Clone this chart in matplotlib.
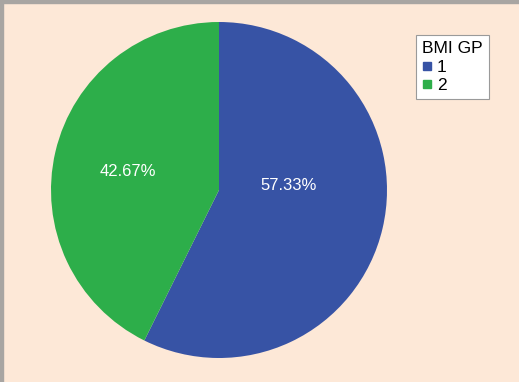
import matplotlib.pyplot as plt
from matplotlib.patches import Rectangle
from matplotlib.lines import Line2D

groups = ['1', '2']
shares = [57.33, 42.67]
colors = ['#3753A5', '#2DAE4A']
label_pos = [(289, 186), (128, 172)]  # pixel positions of the labels

W, H = 519, 382
fig = plt.figure(figsize=(W / 100, H / 100), dpi=100)
fig.patch.set_facecolor('#FDE8D7')

# gray frame on the top and left edges
fig.patches.append(Rectangle((0, 0), 3 / W, 1, transform=fig.transFigure,
                             color='#A8A5A2', zorder=0))
fig.patches.append(Rectangle((0, 1 - 3 / H), 1, 3 / H, transform=fig.transFigure,
                             color='#A8A5A2', zorder=0))

cx, cy, r = 219, 190, 168
ax = fig.add_axes([(cx - r) / W, 1 - (cy + r) / H, 2 * r / W, 2 * r / H])
ax.pie(shares, colors=colors, startangle=90, counterclock=False,
       wedgeprops=dict(linewidth=0))
ax.set_xlim(-1, 1)
ax.set_ylim(-1, 1)
ax.set_aspect('auto')
ax.axis('off')

for s, (px, py) in zip(shares, label_pos):
    fig.text(px / W, 1 - py / H, f'{s:.2f}%', color='white', fontsize=12,
             ha='center', va='center', family='Liberation Sans')

handles = [Line2D([], [], marker='s', linestyle='', markersize=6,
                  markerfacecolor=c, markeredgecolor=c) for c in colors]
leg = fig.legend(handles, groups, title='BMI GP', loc='upper left',
                 bbox_to_anchor=(416 / W, 1 - 35 / H), frameon=True,
                 fancybox=False, edgecolor='#9A9A9A', facecolor='white',
                 framealpha=1, prop={'family': 'Liberation Sans', 'size': 12.5},
                 title_fontproperties={'family': 'Liberation Sans', 'size': 12.5},
                 handletextpad=0.25, handlelength=0.6, borderpad=0.35,
                 labelspacing=0.15, borderaxespad=0)
leg._legend_box.align = 'left'
leg._legend_box.sep = 3
leg.get_frame().set_linewidth(0.8)

fig.savefig('out.png', dpi=100, facecolor=fig.get_facecolor())
